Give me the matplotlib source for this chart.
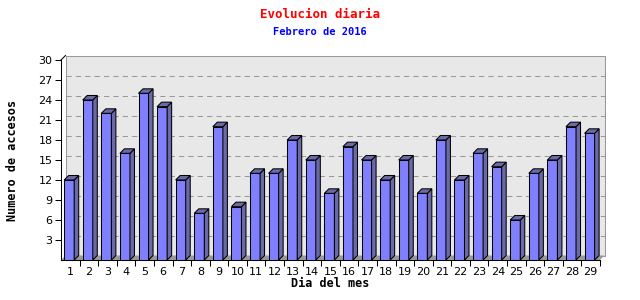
import numpy as np
import matplotlib
matplotlib.use("Agg")
import matplotlib.pyplot as plt
from matplotlib.patches import Polygon, Rectangle

dias = list(range(1, 30))
accesos = [12, 24, 22, 16, 25, 23, 12, 7, 20, 8, 13, 13, 18, 15, 10,
           17, 15, 12, 15, 10, 18, 12, 16, 14, 6, 13, 15, 20, 19]
yticks = [3, 6, 9, 12, 15, 18, 21, 24, 27, 30]

fig = plt.figure(figsize=(6.4, 3.0), dpi=100)
# front plane: x 61..600 px, y 60..260 px
ax = fig.add_axes([61 / 640, 40 / 300, 539 / 640, 200 / 300])
ax.set_xlim(0, len(dias))
ax.set_ylim(0, 30)
ax.patch.set_visible(False)

lw = 0.75
# 3d depth in data units (about 4-5 px)
dx = 4.5 * len(dias) / 539
dy = 4.5 * 30 / 200

# back wall and floor
ax.add_patch(Rectangle((dx, dy), len(dias), 30, facecolor="#e8e8e8",
                       edgecolor="#999999", lw=lw, clip_on=False, zorder=0))
ax.add_patch(Polygon([(0, 0), (len(dias), 0), (len(dias) + dx, dy), (dx, dy)],
                     closed=True, facecolor="#999999", edgecolor="none",
                     clip_on=False, zorder=1))
for t in yticks[:-1]:
    ax.plot([dx, len(dias) + dx], [t + dy, t + dy], color="#999999",
            lw=lw, ls=(0, (5, 4)), clip_on=False, zorder=1)

# bars
x = np.arange(len(dias))
off, w = 0.17, 0.54
ax.bar(x + off, accesos, width=w, align="edge", color="#8080ff",
       edgecolor="black", lw=lw, zorder=3)
for xi, v in zip(x, accesos):
    x0 = xi + off
    side = [(x0 + w, 0), (x0 + w + dx, dy), (x0 + w + dx, v + dy), (x0 + w, v)]
    top = [(x0, v), (x0 + dx, v + dy), (x0 + w + dx, v + dy), (x0 + w, v)]
    for pts in (side, top):
        ax.add_patch(Polygon(pts, closed=True, facecolor="#6a6aa8",
                             edgecolor="black", lw=lw, clip_on=False, zorder=3))

# axes
for s in ("top", "right"):
    ax.spines[s].set_visible(False)
ax.spines["left"].set_linewidth(lw)
ax.spines["bottom"].set_linewidth(lw)
ax.plot([0, dx], [30, 30 + dy], color="black", lw=lw, clip_on=False)

ax.set_yticks(yticks)
ax.set_yticklabels([str(t) for t in yticks], fontsize=8)
ax.set_xticks(np.arange(1, len(dias) + 1))
ax.set_xticklabels([])
ax.set_xticks(x + 0.5, minor=True)
ax.set_xticklabels([str(d) for d in dias], minor=True, fontsize=8)
ax.tick_params(axis="x", which="major", direction="out", length=4, width=lw)
ax.tick_params(axis="x", which="minor", length=0, pad=5)
ax.tick_params(axis="y", direction="out", length=4, width=lw, pad=2)

ax.set_ylabel("Numero de accesos", family="DejaVu Sans Mono",
              fontweight="bold", fontsize=8.5, labelpad=14)
ax.set_xlabel("Dia del mes", family="DejaVu Sans Mono",
              fontweight="bold", fontsize=8.5, labelpad=0)

fig.text(0.5, 1 - 14 / 300, "Evolucion diaria", color="red",
         family="DejaVu Sans Mono", fontweight="bold", fontsize=9,
         ha="center", va="center")
fig.text(0.5, 1 - 32 / 300, "Febrero de 2016", color="blue",
         family="DejaVu Sans Mono", fontweight="bold", fontsize=7.5,
         ha="center", va="center")

fig.savefig("out.png", dpi=100)
